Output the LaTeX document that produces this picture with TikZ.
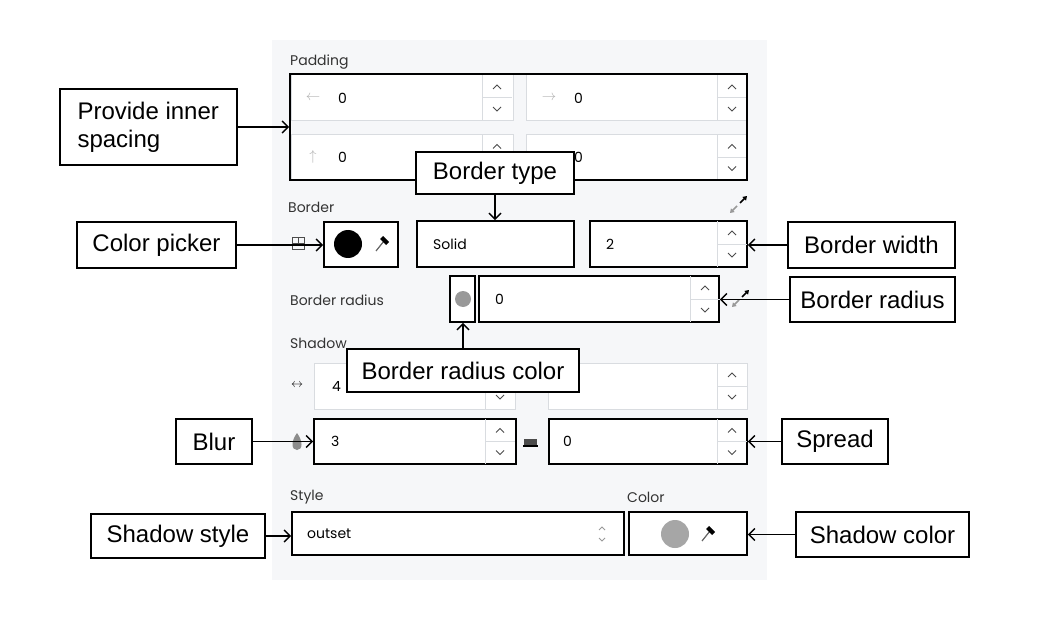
\documentclass[tikz,border=0pt]{standalone}
\usepackage{fontspec}
\setmainfont{Liberation Sans}
\newfontfamily\uifont{Poppins}
\usetikzlibrary{arrows.meta}
\definecolor{panel}{HTML}{F6F7F9}
\definecolor{lgray}{HTML}{D9DCE0}
\definecolor{uitext}{HTML}{333333}
\begin{document}
\begin{tikzpicture}[x=1pt,y=-1pt,
  call/.style={draw=black,line width=1.5pt,fill=white,font=\fontsize{24}{28}\selectfont,align=left,inner sep=0pt},
  arr/.style={line width=1.5pt,-{Straight Barb[length=6pt,width=12pt,line width=1.5pt]}},
  blk/.style={draw=black,line width=1.6pt,fill=white},
  gry/.style={draw=lgray,line width=1pt,fill=white},
  lab/.style={font=\uifont\fontsize{14}{16}\selectfont,text=uitext,anchor=west,inner sep=0pt},
  val/.style={font=\uifont\fontsize{14}{16}\selectfont,text=black,anchor=west,inner sep=0pt},
  chev/.style={draw=black!70,line width=0.8pt}]
\useasboundingbox (0,0) rectangle (1040,620);
\fill[panel] (272,40) rectangle (767,580);
\newcommand\spin[4]{%
  \draw[#4,line width=1pt] (#1,#2) -- (#1,#3);
  \draw[#4,line width=1pt] (#1,{(#2+#3)/2}) -- ({#1+30},{(#2+#3)/2});
  \draw[chev] ({#1+11},{(#2+#3)/2-9}) -- ({#1+15},{(#2+#3)/2-13}) -- ({#1+19},{(#2+#3)/2-9});
  \draw[chev] ({#1+11},{(#2+#3)/2+9}) -- ({#1+15},{(#2+#3)/2+13}) -- ({#1+19},{(#2+#3)/2+9});}
% Padding
\node[lab] at (290,62) {Padding};
\draw[gry] (291,75) rectangle (513,121);
\draw[gry] (526,75) rectangle (747,121);
\draw[gry] (291,135) rectangle (513,180);
\draw[gry] (526,135) rectangle (747,180);
\spin{482}{75}{121}{lgray}\spin{717}{75}{121}{lgray}
\spin{482}{135}{180}{lgray}\spin{717}{135}{180}{lgray}
\node[val] at (338,98) {0};\node[val] at (574,98) {0};
\node[val] at (338,157) {0};\node[val] at (574,157) {0};
\node[text=black!30,font=\fontsize{14}{14}\selectfont] at (313,98) {$\leftarrow$};
\node[text=black!30,font=\fontsize{14}{14}\selectfont] at (549,98) {$\rightarrow$};
\node[text=black!30,font=\fontsize{14}{14}\selectfont] at (313,157) {$\uparrow$};
\node[draw=black,line width=1.6pt,minimum width=457pt,minimum height=106pt,inner sep=0pt] (pad) at (518.5,127) {};
% Border row
\node[lab] at (288,207) {Border};
\draw[black!70,line width=0.9pt] (292,237) rectangle (304,249); \draw[black!70,line width=0.9pt] (292,243)--(304,243) (298,237)--(298,243);
\node[blk,minimum width=74pt,minimum height=45pt,inner sep=0pt] (cp) at (361,244.5) {};
\fill[black] (348,244) circle (14);
\draw[black!60,line width=1.2pt] (376,251)--(384,241); \fill[black] (383,236) -- (389,242) -- (386,245) -- (380,239) -- cycle;
\node[blk,minimum width=157pt,minimum height=46pt,inner sep=0pt] (solid) at (495.5,244) {};
\node[val] at (433,244) {Solid};
\node[blk,minimum width=157pt,minimum height=46pt,inner sep=0pt] (bw) at (668.5,244) {};
\spin{717}{221}{267}{lgray}
\node[val] at (606,244) {2};
\draw[black!40,line width=1.5pt,-{Triangle[length=4pt,width=5pt]}] (737,206)--(730,213);
\draw[black,line width=1.5pt,-{Triangle[length=4pt,width=5pt]}] (740,203)--(747,196);
% Border radius
\node[lab] at (290,300) {Border radius};
\node[blk,minimum width=25pt,minimum height=46pt,inner sep=0pt] (brc) at (462.5,299) {};
\fill[black!40] (463,299) circle (8);
\node[blk,minimum width=240pt,minimum height=46pt,inner sep=0pt] (br) at (599,299) {};
\spin{690}{276}{322}{lgray}
\node[val] at (495,299) {0};
\draw[black!40,line width=1.5pt,-{Triangle[length=4pt,width=5pt]}] (739,300)--(732,307);
\draw[black,line width=1.5pt,-{Triangle[length=4pt,width=5pt]}] (742,297)--(749,290);
% Shadow
\node[lab] at (290,343) {Shadow};
\draw[gry] (314,363) rectangle (515,409);
\draw[gry] (548,363) rectangle (747,409);
\spin{485}{363}{409}{lgray}\spin{717}{363}{409}{lgray}
\node[val] at (332,386) {4};
\node[font=\fontsize{13}{13}\selectfont] at (297,385) {$\leftrightarrow$};
\node[blk,minimum width=202pt,minimum height=45pt,inner sep=0pt] (blur) at (415,441.5) {};
\node[blk,minimum width=198pt,minimum height=45pt,inner sep=0pt] (spr) at (648,441.5) {};
\spin{485}{419}{464}{lgray}\spin{717}{419}{464}{lgray}
\node[val] at (331,441) {3};
\node[val] at (563,441) {0};
\fill[black!45] (297,433) .. controls (291,441) and (291,450) .. (297,450) .. controls (303,450) and (303,441) .. (297,433);
\fill[black!70] (524,439) rectangle (537,446); \fill[black] (523,445) rectangle (538,447);
% Style / Color
\node[lab] at (290,497) {Style};
\node[lab] at (627,497) {Color};
\node[blk,minimum width=332pt,minimum height=43pt,inner sep=0pt] (sty) at (458,533.5) {};
\node[val] at (307,534) {outset};
\draw[black!40,line width=0.8pt] (599,530)--(602,527)--(605,530) (599,538)--(602,541)--(605,538);
\node[blk,minimum width=118pt,minimum height=43pt,inner sep=0pt] (col) at (688,533.5) {};
\fill[black!35] (675,534) circle (14);
\draw[black!60,line width=1.2pt] (702,541)--(710,531); \fill[black] (709,526) -- (715,532) -- (712,535) -- (706,529) -- cycle;
% Callouts
\node[call,minimum width=177pt,minimum height=76pt,inner xsep=14pt,anchor=west] (c1) at (59,127) {Provide inner\\spacing};
\node[call,minimum width=158pt,minimum height=42pt] (c2) at (495,173) {Border type};
\node[call,minimum width=159pt,minimum height=46pt] (c3) at (156.5,245) {Color picker};
\node[call,minimum width=167pt,minimum height=46pt] (c4) at (871.5,245) {Border width};
\node[call,minimum width=165pt,minimum height=45pt] (c5) at (872.5,299.5) {Border radius};
\node[call,minimum width=232pt,minimum height=43pt] (c6) at (463,370.5) {Border radius color};
\node[call,minimum width=76pt,minimum height=45pt] (c7) at (214,441.5) {Blur};
\node[call,minimum width=106pt,minimum height=45pt] (c8) at (835,441.5) {Spread};
\node[call,minimum width=174pt,minimum height=44pt] (c9) at (178,536) {Shadow style};
\node[call,minimum width=173pt,minimum height=45pt] (c10) at (882.5,534.5) {Shadow color};
% Arrows
\draw[arr] (c1.east) -- (c1.east -| pad.west);
\draw[arr] (c2.south) -- (c2.south |- solid.north);
\draw[arr] (c3.east) -- (c3.east -| cp.west);
\draw[arr] (c4.west) -- (c4.west -| bw.east);
\draw[arr] (c5.west) -- (c5.west -| br.east);
\draw[arr] (c6.north) -- (c6.north |- brc.south);
\draw[arr] (c7.east) -- (c7.east -| blur.west);
\draw[arr] (c8.west) -- (c8.west -| spr.east);
\draw[arr] (c9.east) -- (c9.east -| sty.west);
\draw[arr] (c10.west) -- (c10.west -| col.east);
\end{tikzpicture}
\end{document}
